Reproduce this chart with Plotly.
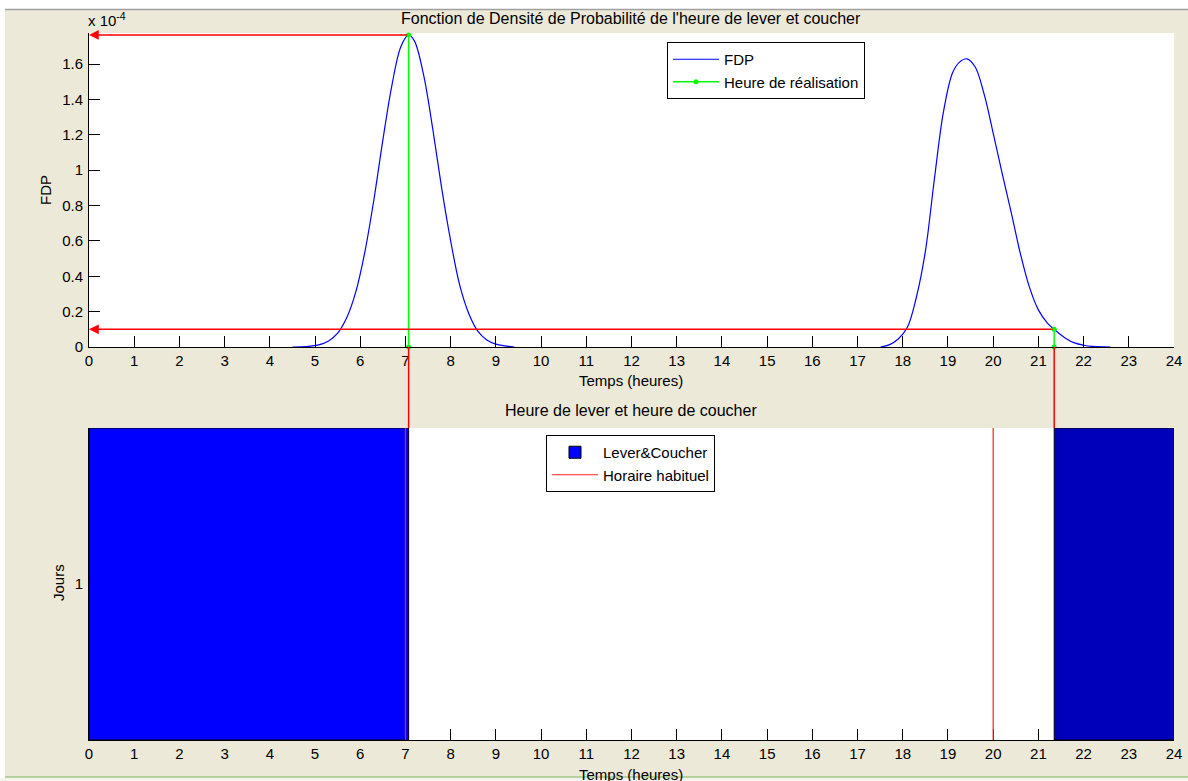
import plotly.graph_objects as go

# ---------------- data ----------------
# FDP (units of 1e-4), morning (lever) peak
lever_h = [4.50, 4.70, 4.90, 5.10, 5.30, 5.50, 5.70, 5.90, 6.10, 6.30, 6.50, 6.70, 6.90, 7.07,
           7.20, 7.40, 7.60, 7.80, 8.00, 8.20, 8.40, 8.60, 8.80, 9.00, 9.20, 9.41]
lever_v = [0.000, 0.001, 0.005, 0.013, 0.034, 0.078, 0.165, 0.31, 0.535, 0.83, 1.17, 1.48, 1.70, 1.765,
           1.73, 1.54, 1.24, 0.90, 0.60, 0.35, 0.19, 0.09, 0.04, 0.016, 0.006, 0.000]
# evening (coucher) peak
coucher_h = [17.51, 17.70, 17.90, 18.10, 18.30, 18.50, 18.70, 18.90, 19.10, 19.25, 19.42,
             19.60, 19.80, 20.00, 20.20, 20.40, 20.60, 20.80, 21.00, 21.20, 21.35, 21.60,
             21.80, 22.00, 22.20, 22.59]
coucher_v = [0.000, 0.012, 0.045, 0.11, 0.28, 0.54, 0.95, 1.33, 1.55, 1.61, 1.63,
             1.585, 1.43, 1.21, 0.98, 0.76, 0.53, 0.34, 0.21, 0.135, 0.10, 0.05,
             0.023, 0.010, 0.003, 0.000]

realisation_h = [7.07, 21.35]      # heure de réalisation (lever, coucher)
realisation_fdp = [1.765, 0.10]    # FDP at those times (x 1e-4)
habituel_h = [7.0, 20.0]           # horaire habituel
jour = [1]
day_end = 24

x_ticks = list(range(0, 25))
y_ticks = [0, 0.2, 0.4, 0.6, 0.8, 1, 1.2, 1.4, 1.6]
y_ticklabels = ["0", "0.2", "0.4", "0.6", "0.8", "1", "1.2", "1.4", "1.6"]

# ---------------- layout helpers ----------------
W, H = 1188, 781
L, R, T, B = 89, 14, 33, 41
PW, PH = W - L - R, H - T - B


def px(x):
    return (x - L) / PW


def py(y):
    return (H - B - y) / PH


FONT = "Liberation Sans, Arial, sans-serif"
BEIGE = "#ECE9D8"

fig = go.Figure()

# FDP curve
fig.add_trace(go.Scatter(
    x=lever_h + [None] + coucher_h, y=lever_v + [None] + coucher_v,
    mode="lines", line=dict(color="#0000FF", width=1.2, shape="spline", smoothing=1.0),
    name="FDP", legend="legend", xaxis="x", yaxis="y", connectgaps=False))

# realisation (green)
gx, gy = [], []
for h, v in zip(realisation_h, realisation_fdp):
    gx += [h, h, None]
    gy += [0, v, None]
fig.add_trace(go.Scatter(
    x=gx, y=gy, mode="lines+markers",
    line=dict(color="#00FF00", width=1.5),
    marker=dict(color="#00FF00", size=5, symbol="circle"),
    name="Heure de réalisation", legend="legend", xaxis="x", yaxis="y", cliponaxis=False))

# bars (lever & coucher)
fig.add_trace(go.Bar(
    y=jour * 2, x=[realisation_h[0], day_end - realisation_h[1]], base=[0, realisation_h[1]],
    orientation="h", width=0.8,
    marker=dict(color=["#0000FF", "#0000BB"], line=dict(color="black", width=1)),
    name="Lever&Coucher", legend="legend2", xaxis="x2", yaxis="y2"))

# habitual times
hx, hy = [], []
for h in habituel_h:
    hx += [h, h, None]
    hy += [0.6, 1.4, None]
fig.add_trace(go.Scatter(
    x=hx, y=hy, mode="lines", line=dict(color="#FF2020", width=1.2),
    name="Horaire habituel", legend="legend2", xaxis="x2", yaxis="y2"))

# red arrows in FDP plot
annotations = []
for h, v in zip(realisation_h, realisation_fdp):
    annotations.append(dict(
        x=0, y=v, xref="x", yref="y", ax=h, ay=v, axref="x", ayref="y",
        showarrow=True, arrowhead=2, arrowsize=1.3, arrowwidth=1.5, arrowcolor="#FF0000",
        text=""))

# connecting red lines between the two panels
shapes = []
for h in realisation_h:
    shapes.append(dict(type="line", xref="x", yref="paper", x0=h, x1=h,
                       y0=py(347), y1=py(428), line=dict(color="#FF0000", width=1.5),
                       layer="above"))

# window frame decorations
shapes += [
    dict(type="rect", xref="paper", yref="paper", x0=px(-5), x1=px(W + 5), y0=py(9), y1=py(-5),
         fillcolor="white", line=dict(width=0), layer="below"),
    dict(type="rect", xref="paper", yref="paper", x0=px(-5), x1=px(5), y0=py(H + 5), y1=py(-5),
         fillcolor="white", line=dict(width=0), layer="below"),
    dict(type="line", xref="paper", yref="paper", x0=px(5), x1=px(W + 5), y0=py(9.5), y1=py(9.5),
         line=dict(color="#A0A0A0", width=1.5), layer="below"),
    dict(type="rect", xref="paper", yref="paper", x0=px(-5), x1=px(W + 5), y0=py(H + 5), y1=py(778),
         fillcolor="#F4F4EC", line=dict(width=0), layer="below"),
    dict(type="line", xref="paper", yref="paper", x0=px(5), x1=px(W + 5), y0=py(777), y1=py(777),
         line=dict(color="#B8D0A0", width=2), layer="below"),
]

tf = dict(family=FONT, size=15, color="black")
ttl = dict(family=FONT, size=16, color="black")
annotations += [
    dict(text="Fonction de Densité de Probabilité de l'heure de lever et coucher",
         x=px(631), y=py(18), xref="paper", yref="paper", showarrow=False, font=ttl,
         xanchor="center", yanchor="middle"),
    dict(text="x 10<sup>-4</sup>", x=px(86), y=py(20), xref="paper", yref="paper",
         showarrow=False, font=tf, xanchor="left", yanchor="middle"),
    dict(text="Temps (heures)", x=px(631), y=py(380), xref="paper", yref="paper",
         showarrow=False, font=tf, xanchor="center", yanchor="middle"),
    dict(text="FDP", x=px(45), y=py(190), xref="paper", yref="paper", textangle=-90,
         showarrow=False, font=tf, xanchor="center", yanchor="middle"),
    dict(text="Heure de lever et heure de coucher", x=px(631), y=py(410), xref="paper",
         yref="paper", showarrow=False, font=ttl, xanchor="center", yanchor="middle"),
    dict(text="Jours", x=px(58), y=py(583), xref="paper", yref="paper", textangle=-90,
         showarrow=False, font=tf, xanchor="center", yanchor="middle"),
    dict(text="Temps (heures)", x=px(631), y=py(774), xref="paper", yref="paper",
         showarrow=False, font=tf, xanchor="center", yanchor="middle"),
]

axis_common = dict(showgrid=False, zeroline=False, showline=True, linecolor="black",
                   linewidth=1, ticks="inside", ticklen=11, tickcolor="black",
                   tickfont=tf, mirror=False, automargin=False, ticklabeloverflow="allow")

fig.update_layout(
    width=W, height=H, autosize=False,
    margin=dict(l=L, r=R, t=T, b=B, pad=0, autoexpand=False),
    paper_bgcolor=BEIGE, plot_bgcolor="white",
    font=tf, barmode="overlay",
    xaxis=dict(domain=[0, 1], anchor="y", range=[0, 24], tickvals=x_ticks, **axis_common),
    yaxis=dict(domain=[py(347), 1], anchor="x", range=[0, 1.776], tickvals=y_ticks,
               ticktext=y_ticklabels, ticklabelstandoff=2, **axis_common),
    xaxis2=dict(domain=[0, 1], anchor="y2", range=[0, 24], tickvals=x_ticks,
                layer="below traces", **axis_common),
    yaxis2=dict(domain=[0, py(428)], anchor="x2", range=[0.6, 1.4], tickvals=jour,
                ticklabelstandoff=2, layer="below traces", **axis_common),
    legend=dict(x=px(667), y=py(42), xanchor="left", yanchor="top", bgcolor="white",
                bordercolor="black", borderwidth=1, font=tf, itemwidth=46,
                tracegroupgap=0),
    legend2=dict(x=px(546), y=py(435), xanchor="left", yanchor="top", bgcolor="white",
                 bordercolor="black", borderwidth=1, font=tf, itemwidth=46,
                 tracegroupgap=0),
    showlegend=True,
    annotations=annotations,
    shapes=shapes,
)

fig.write_html(
    "out.html",
    config={"responsive": False, "displayModeBar": False},
    post_script=("document.documentElement.style.overflow='hidden';"
                 "document.body.style.overflow='hidden';"
                 "document.body.style.margin='0px';"),
)
